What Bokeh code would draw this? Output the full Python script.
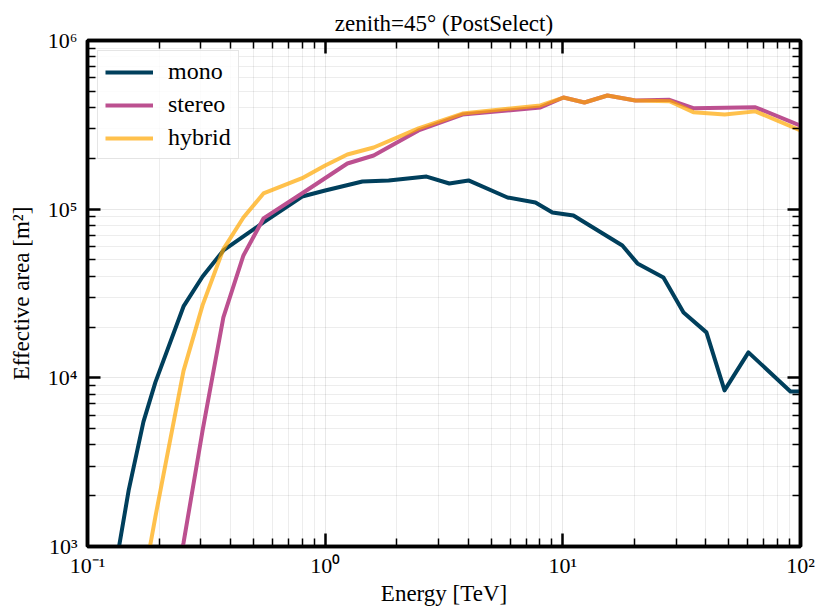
from bokeh.plotting import figure
from bokeh.models import (FixedTicker, LogAxis, CustomJSTickFormatter, Legend, LegendItem)
from bokeh.embed import file_html
from bokeh.resources import INLINE

# ---- data ----
mono_energy = [0.13, 0.149, 0.172, 0.193, 0.2535, 0.305, 0.373, 0.55, 0.80, 1.0, 1.435, 1.85,
               2.67, 3.33, 4.01, 5.85, 7.67, 9.04, 11.08, 17.8, 20.6, 26.5, 32.2, 40.2,
               47.9, 60.4, 90.7, 100]
mono_area = [700, 2150, 5500, 9400, 26500, 39900, 56900, 83400, 118900, 129000, 146000, 148000,
             156000, 142000, 148000, 117300, 109600, 95600, 91800, 60900, 47700, 39400, 24400, 18600,
             8420, 14150, 8300, 8300]

stereo_energy = [0.193, 0.2535, 0.305, 0.373, 0.453, 0.55, 0.81, 1.24, 1.6, 2.47, 3.78, 8.05,
                 10.06, 12.33, 15.4, 20.2, 28.1, 35.4, 48.0, 64.6, 100]
stereo_area = [150, 1050, 4880, 22800, 53150, 88100, 125600, 186600, 208000, 292800, 364000, 401000,
               459500, 429000, 472000, 441000, 445000, 397000, 399000, 402000, 313000]

hybrid_energy = [0.149, 0.193, 0.2535, 0.305, 0.373, 0.453, 0.55, 0.81, 1.0, 1.24, 1.6, 2.47, 3.78,
                 8.05, 10.06, 12.33, 15.4, 20.2, 28.1, 35.4, 48.0, 64.6, 100]
hybrid_area = [200, 1500, 11000, 27000, 58000, 89300, 124000, 154000, 181600, 211000, 232000, 301000,
               369000, 412000, 459000, 429000, 472000, 441000, 437000, 376000, 364000, 380000, 293000]

x_major = [0.1, 1, 10, 100]
y_major = [1e3, 1e4, 1e5, 1e6]

FONT = "Liberation Serif"

def minors(majors):
    out = []
    for m in majors[:-1]:
        out += [m * k for k in range(2, 10)]
    return out

p = figure(width=816, height=608, x_axis_type="log", y_axis_type="log",
           x_range=(0.1, 100), y_range=(1e3, 1e6),
           output_backend="svg", toolbar_location=None,
           min_border_left=87, min_border_right=16, min_border_top=40, min_border_bottom=62,
           title="zenith=45° (PostSelect)")

p.title.align = "center"
p.title.text_font = FONT
p.title.text_font_size = "23px"
p.title.text_font_style = "normal"
p.title.text_color = "black"

p.outline_line_color = "black"
p.outline_line_width = 3.5
p.background_fill_color = "white"
p.border_fill_color = "white"

fmt = CustomJSTickFormatter(code="""
const sup = {"-":"\u207b","0":"\u2070","1":"\u00b9","2":"\u00b2","3":"\u00b3","4":"\u2074",
             "5":"\u2075","6":"\u2076","7":"\u2077","8":"\u2078","9":"\u2079"};
const e = Math.round(Math.log10(tick));
return "10" + String(e).split("").map(c => sup[c]).join("");
""")

xt = FixedTicker(ticks=x_major, minor_ticks=minors(x_major))
yt = FixedTicker(ticks=y_major, minor_ticks=minors(y_major))

xbottom = p.below[0]
yleft = p.left[0]
xbottom.ticker = xt
yleft.ticker = yt
xbottom.formatter = fmt
yleft.formatter = fmt

xtop = LogAxis(ticker=xt)
yright = LogAxis(ticker=yt)
p.add_layout(xtop, "above")
p.add_layout(yright, "right")

for ax in (xbottom, yleft, xtop, yright):
    ax.major_tick_in = 13
    ax.major_tick_out = 0
    ax.minor_tick_in = 8
    ax.minor_tick_out = 0
    ax.major_tick_line_width = 2.5
    ax.minor_tick_line_width = 1.5
    ax.major_tick_line_color = "black"
    ax.minor_tick_line_color = "black"
    ax.axis_line_width = 3.5
    ax.axis_line_color = "black"
    ax.major_label_text_font = FONT
    ax.major_label_text_font_size = "22px"
    ax.major_label_text_color = "black"
    ax.axis_label_text_font = FONT
    ax.axis_label_text_font_size = "23px"
    ax.axis_label_text_font_style = "normal"
    ax.axis_label_text_color = "black"

for ax in (xtop, yright):
    ax.major_label_text_font_size = "0px"
    ax.major_label_text_alpha = 0
    ax.major_label_standoff = 0

xbottom.axis_label = "Energy [TeV]"
yleft.axis_label = "Effective area [m²]"
xbottom.major_label_standoff = 6
yleft.major_label_standoff = 10
xbottom.axis_label_standoff = 0
yleft.axis_label_standoff = 11

p.xgrid.ticker = xt
p.ygrid.ticker = yt
for g in (p.xgrid, p.ygrid):
    g.grid_line_color = "black"
    g.grid_line_alpha = 0.09
    g.grid_line_width = 1
    g.minor_grid_line_color = "black"
    g.minor_grid_line_alpha = 0.07
    g.minor_grid_line_width = 1

r_mono = p.line(mono_energy, mono_area, line_color="#003f5c", line_width=4, line_join="round")
r_stereo = p.line(stereo_energy, stereo_area, line_color="#bc5090", line_width=4, line_join="round")
r_hybrid = p.line(hybrid_energy, hybrid_area, line_color="#ffa600", line_alpha=0.7,
                  line_width=4, line_join="round")

legend = Legend(items=[LegendItem(label="mono", renderers=[r_mono]),
                       LegendItem(label="stereo", renderers=[r_stereo]),
                       LegendItem(label="hybrid", renderers=[r_hybrid])],
                location="top_left")
legend.margin = 10
legend.padding = 7
legend.spacing = 6
legend.glyph_width = 48
legend.glyph_height = 26
legend.label_height = 26
legend.label_standoff = 15
legend.label_text_font = FONT
legend.label_text_font_size = "24px"
legend.label_text_color = "black"
legend.border_line_color = "#cccccc"
legend.border_line_width = 1.5
legend.background_fill_color = "white"
legend.background_fill_alpha = 0.8
p.add_layout(legend)

open("out.html", "w").write(file_html(p, INLINE))
